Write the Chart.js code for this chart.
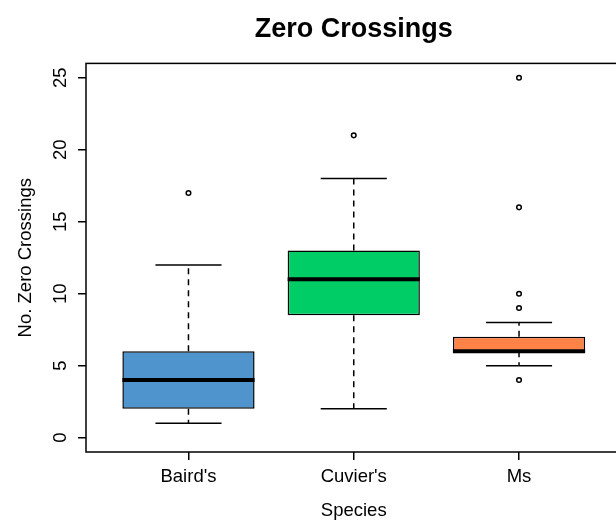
<!DOCTYPE html>
<html>
<head>
<meta charset="utf-8">
<script src="https://cdn.jsdelivr.net/npm/chart.js@4.4.1/dist/chart.umd.min.js"></script>
<style>
  html, body { margin: 0; padding: 0; background: #fff; overflow: hidden; }
  canvas { display: block; }
</style>
</head>
<body>
<canvas id="myChart" width="627" height="526"></canvas>
<script>
/*
*Box plot data
*/
const species = ["Baird's", "Cuvier's", "Ms"];
const whiskerLow = [1, 2, 5];
const q1 = [2, 8.5, 6];
const medians = [4, 11, 6];
const q3 = [6, 13, 7];
const whiskerHigh = [12, 18, 8];
const outliers = [[17], [21], [4, 9, 10, 16, 25]];
const yTicks = [0, 5, 10, 15, 20, 25];
const boxColors = ['#4F94CD', '#00CD66', '#FF8247'];

const positions = species.map((s, i) => i + 1);
const boxHalf = 0.4;
const capHalf = 0.2;

Chart.defaults.font.family = "'Liberation Sans', Arial, sans-serif";
Chart.defaults.color = '#000';

/*
*Whiskers, caps, medians and the plot frame, drawn through the chart scales
*/
function segment(ctx, x1, y1, x2, y2){
    ctx.beginPath();
    ctx.moveTo(x1, y1);
    ctx.lineTo(x2, y2);
    ctx.stroke();
}
const boxPlotPlugin = {
    id: 'boxPlot',
    beforeDatasetsDraw(chart){
        const {ctx, scales: {x, y}} = chart;
        ctx.save();
        ctx.strokeStyle = '#000';
        ctx.lineWidth = 1.5;
        for (let i = 0; i < species.length; i++) {
            const cx = x.getPixelForValue(positions[i]);
            ctx.setLineDash([6, 5]);
            segment(ctx, cx, y.getPixelForValue(q3[i]), cx, y.getPixelForValue(whiskerHigh[i]));
            segment(ctx, cx, y.getPixelForValue(q1[i]), cx, y.getPixelForValue(whiskerLow[i]));
            ctx.setLineDash([]);
            const l = x.getPixelForValue(positions[i] - capHalf);
            const r = x.getPixelForValue(positions[i] + capHalf);
            segment(ctx, l, y.getPixelForValue(whiskerHigh[i]), r, y.getPixelForValue(whiskerHigh[i]));
            segment(ctx, l, y.getPixelForValue(whiskerLow[i]), r, y.getPixelForValue(whiskerLow[i]));
        }
        ctx.restore();
    },
    afterDatasetsDraw(chart){
        const {ctx, scales: {x, y}} = chart;
        ctx.save();
        ctx.strokeStyle = '#000';
        ctx.lineWidth = 4;
        for (let i = 0; i < species.length; i++) {
            const l = x.getPixelForValue(positions[i] - boxHalf);
            const r = x.getPixelForValue(positions[i] + boxHalf);
            const my = y.getPixelForValue(medians[i]);
            segment(ctx, l, my, r, my);
        }
        ctx.restore();
    },
    afterDraw(chart){
        const {ctx, chartArea} = chart;
        ctx.save();
        ctx.strokeStyle = '#000';
        ctx.lineWidth = 1.5;
        ctx.strokeRect(chartArea.left, chartArea.top, chartArea.right - chartArea.left, chartArea.bottom - chartArea.top);
        ctx.restore();
    }
};

const outlierPoints = [];
for (let i = 0; i < outliers.length; i++) {
    for (let j = 0; j < outliers[i].length; j++) {
        outlierPoints.push({x: positions[i], y: outliers[i][j]});
    }
}

const ctx = document.getElementById('myChart').getContext('2d');
const myChart = new Chart(ctx, {
    type: 'bar',
    data: {
        datasets: [{
            label: 'IQR',
            data: positions.map((p, i) => ({x: p, y: [q1[i], q3[i]]})),
            backgroundColor: boxColors,
            borderColor: '#000',
            borderWidth: 1.5,
            borderSkipped: false,
            categoryPercentage: 1,
            barPercentage: boxHalf * 2
        }, {
            type: 'scatter',
            label: 'Outliers',
            data: outlierPoints,
            pointRadius: 2.3,
            pointBorderWidth: 1.5,
            pointBorderColor: '#000',
            pointBackgroundColor: '#fff'
        }]
    },
    options: {
        responsive: false,
        animation: false,
        layout: { padding: 0 },
        plugins: {
            legend: { display: false },
            tooltip: { enabled: false },
            title: {
                display: true,
                text: 'Zero Crossings',
                fullSize: false,
                font: { size: 27, weight: 'bold' },
                padding: { top: 13, bottom: 18 }
            }
        },
        scales: {
            x: {
                type: 'linear',
                min: 0.38,
                max: 3.62,
                offset: false,
                afterBuildTicks: scale => { scale.ticks = positions.map(v => ({value: v})); },
                afterFit: scale => { scale.height = 74; },
                ticks: {
                    font: { size: 18.5 },
                    padding: 6,
                    callback: (v) => species[positions.indexOf(v)]
                },
                grid: { offset: false, drawOnChartArea: false, tickLength: 8, color: '#000', lineWidth: 1.5 },
                border: { display: false },
                title: { display: true, text: 'Species', font: { size: 18.5 }, padding: { top: 0, bottom: 4 } }
            },
            y: {
                min: -1,
                max: 26,
                afterBuildTicks: scale => { scale.ticks = yTicks.map(v => ({value: v})); },
                afterFit: scale => { scale.width = 86; },
                ticks: {
                    font: { size: 18.5 },
                    minRotation: 90,
                    maxRotation: 90,
                    crossAlign: 'center',
                    padding: 7
                },
                grid: { drawOnChartArea: false, tickLength: 8, color: '#000', lineWidth: 1.5 },
                border: { display: false },
                title: { display: true, text: 'No. Zero Crossings', font: { size: 18.5 }, padding: { top: 14.6, bottom: 0 } }
            }
        }
    },
    plugins: [boxPlotPlugin]
});
</script>
</body>
</html>
